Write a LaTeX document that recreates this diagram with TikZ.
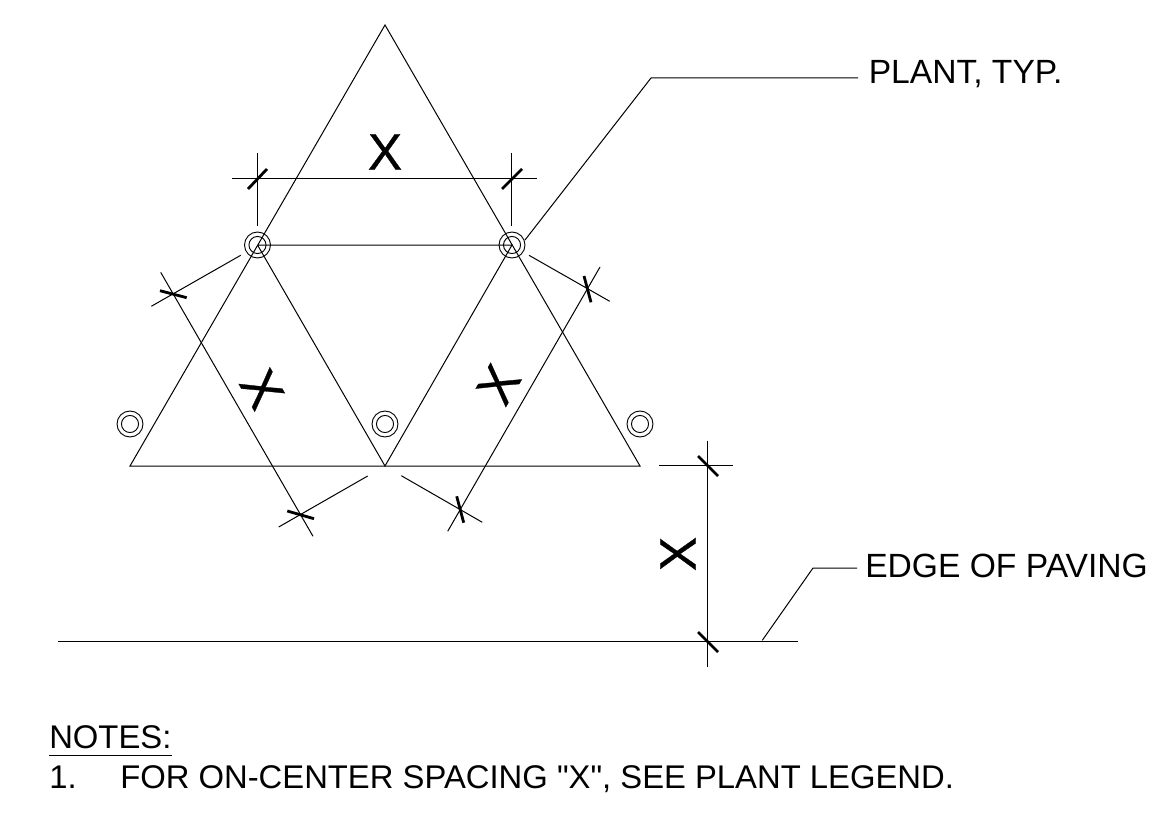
\documentclass[tikz,border=0pt]{standalone}
\usepackage{fontspec}
\setmainfont{Liberation Sans}[Ligatures=TeXOff]
\newfontfamily\dimfont[FakeBold=0.6]{Liberation Sans}
\tikzset{
  plan/.style={line width=0.75pt},
  tick/.style={line width=2.1pt},
  plant/.style={line width=0.7pt},
  note/.style={font=\fontsize{25.2}{28}\selectfont, inner sep=0pt, anchor=base west},
  notebody/.style={note, font=\fontsize{24.6}{28}\selectfont},
  dimx/.style={font=\dimfont\fontsize{38.5}{40}\selectfont, inner sep=0pt},
}
\begin{document}
\begin{tikzpicture}[x=0.75pt, y=-0.75pt]
  \useasboundingbox (0, 0) rectangle (1174, 831);

  % triangles
  \coordinate (apex) at (385, 25);
  \coordinate (ul) at (257.5, 245);
  \coordinate (ur) at (512, 245);
  \coordinate (bl) at (130, 466);
  \coordinate (bm) at (385, 466);
  \coordinate (br) at (640, 466);
  \draw[plan] (apex) -- (bl) -- (br) -- cycle;
  \draw[plan] (ul) -- (ur) -- (bm) -- (ul);

  % plants
  \foreach \px/\py in {257.5/245, 512/245, 130/424, 385/424, 640/424} {
    \draw[plant] (\px, \py) circle (9.75pt);
    \draw[plant] (\px, \py) circle (6.4pt);
  }

  % top dimension
  \draw[plan] (232, 179) -- (537, 179);
  \draw[plan] (257.5, 153) -- (257.5, 226);
  \draw[plan] (511.5, 153) -- (511.5, 226);
  \draw[tick] (248, 189) -- (267, 169);
  \draw[tick] (502, 189) -- (522, 169);
  \node[dimx] (xtop) at (385, 152) {X};

  % left dimension
  \draw[plan] (160.7, 272.3) -- (313, 536.3);
  \draw[plan] (240.7, 255.3) -- (151.3, 306.3);
  \draw[plan] (367.7, 476) -- (278.7, 527);
  \draw[tick] (160, 290.7) -- (186.7, 297.7);
  \draw[tick] (287.3, 511) -- (314, 518.7);
  \node[dimx, rotate=-60] (xleft) at (262, 389) {X};

  % right dimension
  \draw[plan] (600, 267) -- (447.7, 531.3);
  \draw[plan] (529, 255.3) -- (609.7, 301.3);
  \draw[plan] (401.3, 475.7) -- (482.3, 522.3);
  \draw[tick] (584, 276) -- (591, 302.3);
  \draw[tick] (456.7, 496.3) -- (463.7, 522.7);
  \node[dimx, rotate=60] (xright) at (498.5, 384.5) {X};

  % paving and side dimension
  \draw[plan] (58, 641.7) -- (797.7, 641.7);
  \draw[plan] (707.5, 440.7) -- (707.5, 667.3);
  \draw[plan] (659, 465.7) -- (733, 465.7);
  \draw[tick] (698, 456) -- (718, 476);
  \draw[tick] (698, 632) -- (718, 652);
  \node[dimx, rotate=90] (xside) at (678, 554) {X};

  % leaders
  \node[note] (planttyp) at (868.5, 83.3) {PLANT, TYP.};
  \node[note] (edgepav) at (865, 577) {EDGE OF PAVING};
  \draw[plan] (525, 240) -- (651, 78) -- (858, 78);
  \draw[plan] (762.3, 640.3) -- (813, 568) -- (857, 568);

  % notes
  \node[notebody] (notes) at (49, 748.3) {NOTES:};
  \draw[plan] (49, 755.7) -- (171.7, 755.7);
  \node[notebody] (numone) at (49, 788.3) {1.};
  \node[notebody] (noteone) at (120, 788.3) {FOR ON-CENTER SPACING "X", SEE PLANT LEGEND.};
\end{tikzpicture}
\end{document}
